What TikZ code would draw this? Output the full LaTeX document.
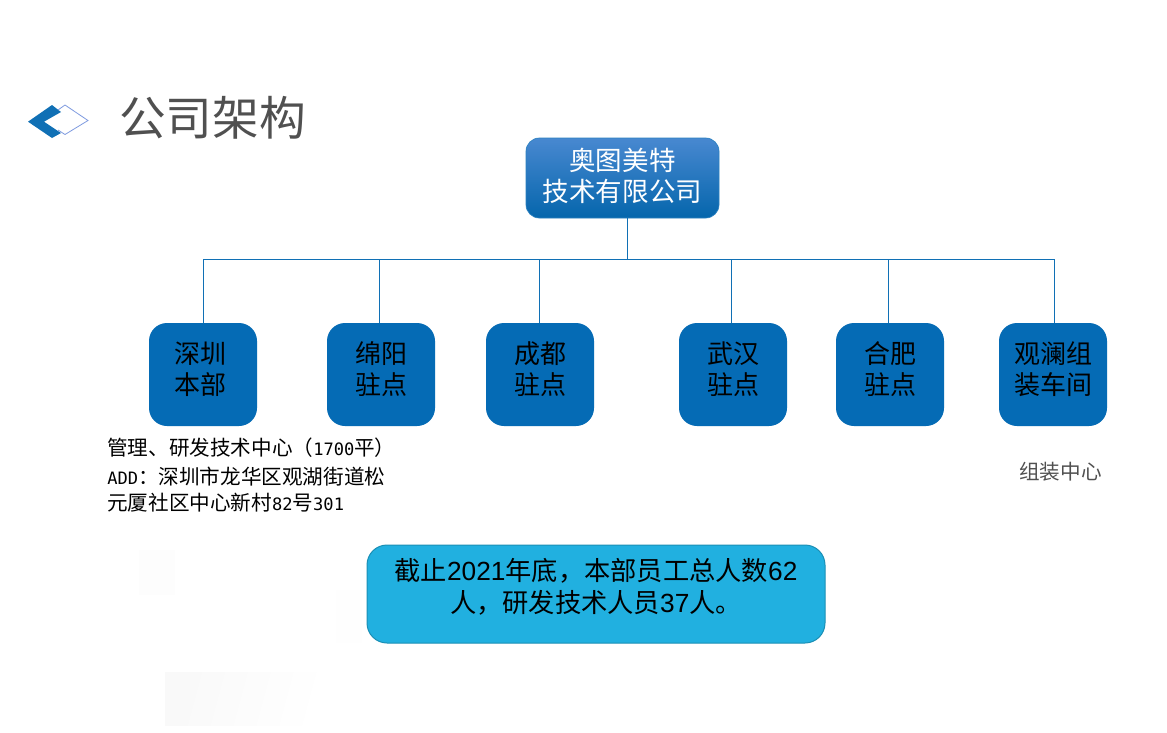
\documentclass[tikz,border=0pt]{standalone}
\usepackage{fontspec}
\setmainfont{Noto Sans CJK SC}
\newfontfamily\latn{Liberation Sans}
\newfontfamily\mono{DejaVu Sans Mono}
\usetikzlibrary{calc}
\definecolor{boxblue}{HTML}{056BB5}
\definecolor{linkblue}{HTML}{1070B5}
\definecolor{noteblue}{HTML}{21B0E0}
\definecolor{noteline}{HTML}{1A8FB5}
\definecolor{titlegray}{HTML}{505050}
\definecolor{markline}{HTML}{7F9BE0}
\newcommand{\boxlines}[2]{\raisebox{#1}[\height][\depth]{\begin{tabular}{@{}c@{}}#2\end{tabular}}}
\newcommand{\monotxt}[1]{{\mono\fontsize{12.8}{18}\selectfont #1}}
\tikzset{
  link/.style={draw=linkblue,line width=0.75pt},
  unit/.style={fill=boxblue,rounded corners=13.5pt,minimum width=81pt,minimum height=77.25pt,inner sep=0pt,text=black,
    font=\fontsize{19.5}{23.25}\selectfont},
  rootbox/.style={top color=boxblue!70!white!90!blue,bottom color=boxblue!95!black,draw=boxblue!85!white,line width=0.5pt,rounded corners=10pt,
    minimum width=144.75pt,minimum height=60pt,inner sep=0pt,text=white,font=\fontsize{19.9}{23.25}\selectfont},
  notebox/.style={fill=noteblue,draw=noteline,line width=0.75pt,rounded corners=15pt,minimum width=343.5pt,minimum height=73.5pt,inner sep=0pt,
    text=black,font=\fontsize{19.7}{23.25}\selectfont},
  caption/.style={anchor=west,inner sep=0pt,text=black,font=\fontsize{15.45}{18}\selectfont},
}
\begin{document}
\begin{tikzpicture}[x=0.75pt,y=-0.75pt]
\useasboundingbox (0,0) rectangle (1167,732);
\fill[white] (0,0) rectangle (1167,732);
% faint smudges
\fill[black!0.6] (139,550) rectangle (175,595);
\fill[black!0.4] (336,590) rectangle (362,643);
\shade[left color=black!2.5,right color=white,shading angle=75] (165,672) rectangle (330,725);
% title mark
\fill[linkblue] (28,121.7) -- (52,105) -- (61,112) -- (44,121.7) -- (61,133) -- (52,138) -- cycle;
\draw[draw=markline,line width=0.6pt] (58,110) -- (65,105) -- (88,120.5) -- (65,134.5) -- (58,130);
\node[anchor=west,inner sep=0pt,text=titlegray,font=\fontsize{35}{40}\selectfont] (title) at (119,118) {公司架构};
% nodes
\node[rootbox] (root) at (622.5,178) {\boxlines{-1.1pt}{奥图美特\\技术有限公司}};
\node[unit] (b1) at (203,374.5) {\hspace*{-4.5pt}\boxlines{1.1pt}{深圳\\本部}};
\node[unit] (b2) at (381,374.5) {\boxlines{1.1pt}{绵阳\\驻点}};
\node[unit] (b3) at (540,374.5) {\boxlines{1.1pt}{成都\\驻点}};
\node[unit] (b4) at (733,374.5) {\boxlines{1.1pt}{武汉\\驻点}};
\node[unit] (b5) at (890,374.5) {\boxlines{1.1pt}{合肥\\驻点}};
\node[unit] (b6) at (1053,374.5) {\boxlines{1.1pt}{观澜组\\装车间}};
\node[notebox] (note) at (596,594) {\boxlines{3pt}{截止{\latn 2021}年底，本部员工总人数{\latn 62}\\人，研发技术人员{\latn 37}人。}};
\node[caption] (c1) at (107,448) {管理、研发技术中心（\monotxt{1700}平）};
\node[caption] (c2) at (107,477) {\monotxt{ADD}：深圳市龙华区观湖街道松};
\node[caption] (c3) at (107,503) {元厦社区中心新村\monotxt{82}号\monotxt{301}};
\node[caption,text=titlegray] (c4) at (1019,472) {组装中心};
% connectors
\coordinate (trunk) at (627,259);
\coordinate (j1) at (203,259);
\coordinate (j2) at (379,259);
\coordinate (j3) at (539,259);
\coordinate (j4) at (731,259);
\coordinate (j5) at (888,259);
\coordinate (j6) at (1054,259);
\draw[link] (trunk |- root.south) -- (trunk);
\draw[link] (j1) -- (j6);
\foreach \i in {1,...,6} \draw[link] (j\i) -- (j\i |- b\i.north);
\end{tikzpicture}
\end{document}
